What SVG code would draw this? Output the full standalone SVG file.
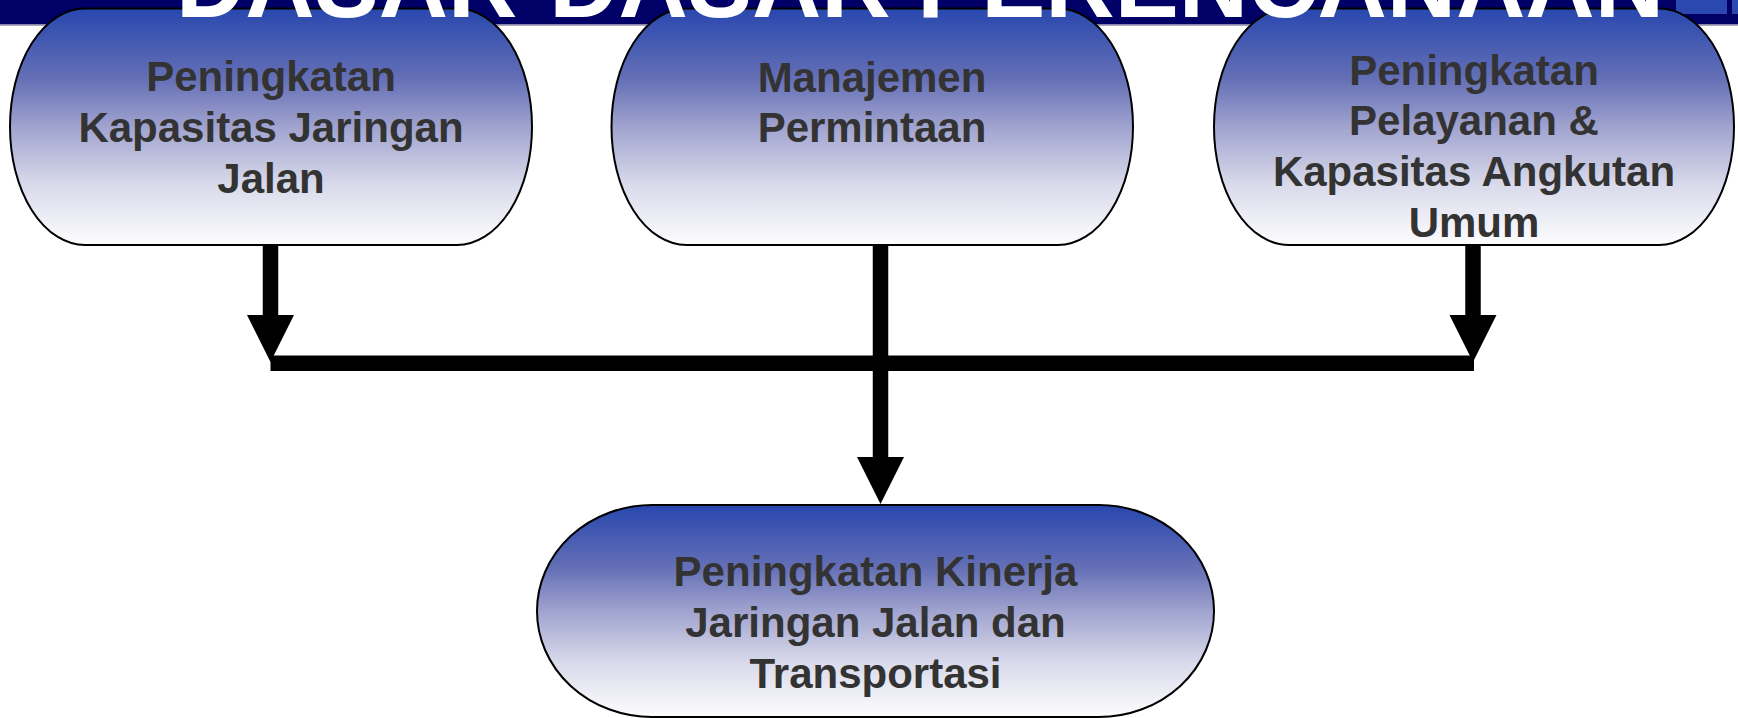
<svg xmlns="http://www.w3.org/2000/svg" width="1738" height="718" viewBox="0 0 1738 718">
<style>
.node{stroke:#000;stroke-width:2;fill:url(#g)}
.lbl{font-family:"Liberation Sans",Arial,sans-serif;font-weight:bold;font-size:42px;fill:#333;text-anchor:middle}
.title{font-family:"Liberation Sans",Arial,sans-serif;font-weight:bold;font-size:96px;fill:#fff;text-anchor:middle}
.conn{stroke:#000;stroke-width:15.5;fill:none}
</style>
<defs>
<linearGradient id="g" x1="0" y1="0" x2="0" y2="1">
<stop offset="0" stop-color="#2847ae"/>
<stop offset="0.3" stop-color="#6570b6"/>
<stop offset="0.5" stop-color="#a0a3cf"/>
<stop offset="0.75" stop-color="#dadbeb"/>
<stop offset="1" stop-color="#fdfdfe"/>
</linearGradient>
<marker id="ah" markerUnits="userSpaceOnUse" markerWidth="48" markerHeight="48" refX="0" refY="23.5" orient="auto" viewBox="0 0 48 48">
<path d="M0,0 L47,23.5 L0,47 Z" fill="#000"/>
</marker>
</defs>
<g id="band">
<rect x="0" y="0" width="1738" height="24.5" fill="#000066"/>
<rect x="1676" y="0" width="51" height="14" fill="#2a48b0"/>
<rect x="1732" y="0" width="6" height="14" fill="#2a48b0"/>
<line x1="0" y1="25" x2="1738" y2="25" stroke="#8a8aa8" stroke-width="1.5"/>
</g>
<g id="node1">
<rect class="node" x="10" y="8.5" width="522" height="236.5" rx="75" ry="118"/>
<text class="lbl" x="271" y="91">Peningkatan</text>
<text class="lbl" x="271" y="142">Kapasitas Jaringan</text>
<text class="lbl" x="271" y="193">Jalan</text>
</g>
<g id="node2">
<rect class="node" x="611.5" y="8.5" width="521.5" height="236.5" rx="75" ry="118"/>
<text class="lbl" x="872" y="92">Manajemen</text>
<text class="lbl" x="872" y="142">Permintaan</text>
</g>
<g id="node3">
<rect class="node" x="1214" y="8.5" width="520" height="236.5" rx="75" ry="118"/>
<text class="lbl" x="1474" y="85">Peningkatan</text>
<text class="lbl" x="1474" y="135">Pelayanan &amp;</text>
<text class="lbl" x="1474" y="186">Kapasitas Angkutan</text>
<text class="lbl" x="1474" y="237">Umum</text>
</g>
<g id="node4">
<rect class="node" x="537" y="505" width="677" height="212" rx="115" ry="106"/>
<text class="lbl" x="875.5" y="586">Peningkatan Kinerja</text>
<text class="lbl" x="875.5" y="637">Jaringan Jalan dan</text>
<text class="lbl" x="875.5" y="688">Transportasi</text>
</g>
<g id="title">
<text class="title" x="920" y="17">DASAR-DASAR PERENCANAAN</text>
</g>
<g id="connectors">
<path class="conn" d="M270.5,245 V315" marker-end="url(#ah)"/>
<path class="conn" d="M1473,245 V315" marker-end="url(#ah)"/>
<path class="conn" d="M270.5,363.25 H1474"/>
<path class="conn" d="M880.5,245 V457" marker-end="url(#ah)"/>
</g>
</svg>
